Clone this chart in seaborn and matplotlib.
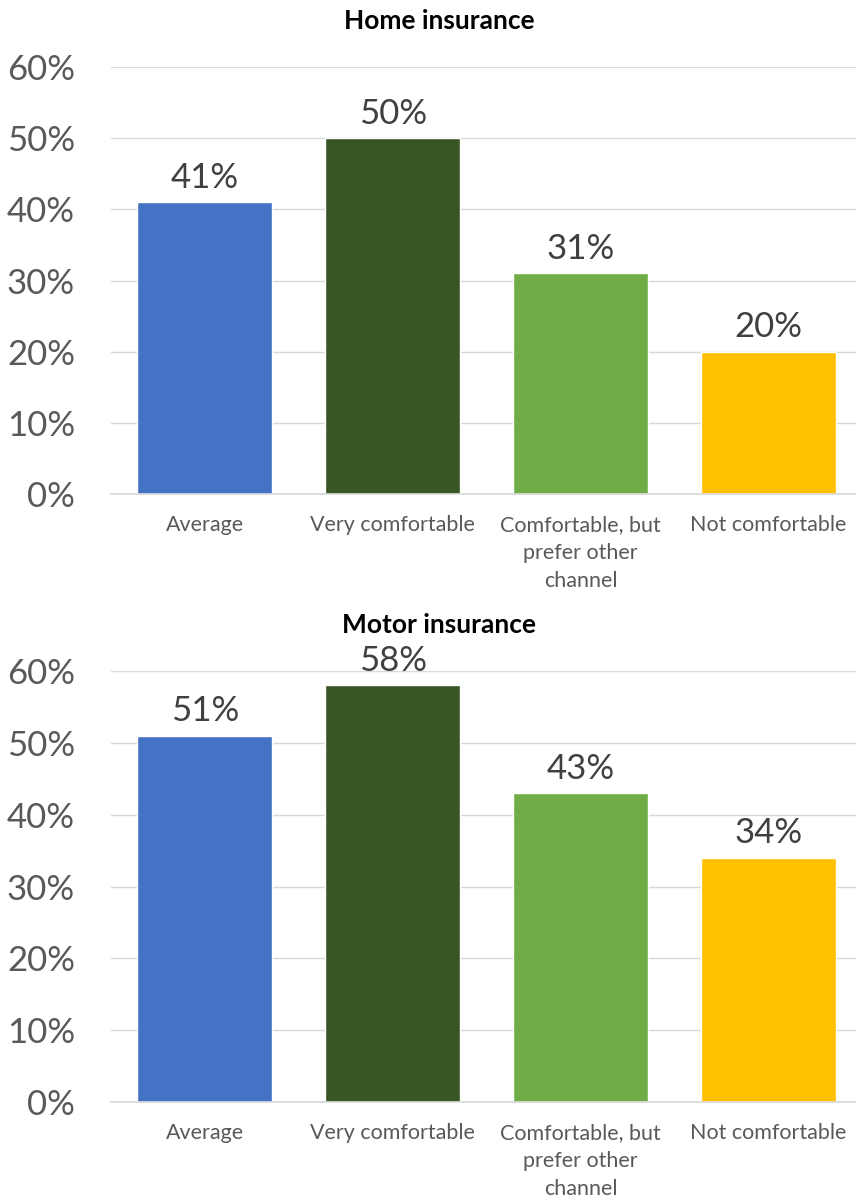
import matplotlib
matplotlib.use("Agg")
import matplotlib.pyplot as plt
import seaborn as sns
import pandas as pd

categories = ["Average", "Very comfortable", "Comfortable, but\nprefer other\nchannel", "Not comfortable"]
home_values = [41, 50, 31, 20]
motor_values = [51, 58, 43, 34]
colors = ["#4472C4", "#375623", "#70AD47", "#FFC000"]
titles = ["Home insurance", "Motor insurance"]

sns.set_theme(style="white")
plt.rcParams["font.family"] = ["Lato", "DejaVu Sans"]

W, H = 856, 1202
fig = plt.figure(figsize=(W / 100, H / 100), dpi=100)


def px_axes(left, top, right, bottom):
    return fig.add_axes([left / W, 1 - bottom / H, (right - left) / W, (bottom - top) / H])


panels = [
    (home_values, titles[0], 67, 494, 21),
    (motor_values, titles[1], 671, 1102, 625),
]

for values, title, top, bottom, title_y in panels:
    ax = px_axes(111, top, 856, bottom)
    df = pd.DataFrame({"category": categories, "value": values})
    sns.barplot(data=df, x="category", y="value", hue="category", palette=colors,
                dodge=False, legend=False, width=0.72, ax=ax, saturation=1)
    ax.set_ylim(0, 60)
    ax.set_xlim(-0.5, 3.468)
    ax.set_yticks(range(0, 61, 10))
    ax.set_yticklabels([f"{v}%" for v in range(0, 61, 10)], fontsize=25, color="#595959")
    ax.set_xlabel("")
    ax.set_ylabel("")
    ax.tick_params(axis="x", labelsize=15.5, colors="#595959", length=0, pad=15)
    ax.tick_params(axis="y", length=0, pad=26)
    for lbl in ax.get_xticklabels():
        lbl.set_linespacing(1.5)
    ax.grid(axis="y", color="#D9D9D9", linewidth=1)
    ax.set_axisbelow(True)
    for s in ["top", "right", "left"]:
        ax.spines[s].set_visible(False)
    ax.spines["bottom"].set_color("#D9D9D9")
    for container in ax.containers:
        ax.bar_label(container, labels=[f"{v:.0f}%" for v in container.datavalues],
                     fontsize=25, color="#404040", padding=6)
    fig.text(439 / W, 1 - title_y / H, title, ha="center", va="center",
             fontsize=19, fontweight="bold", color="#000000")

fig.savefig("out.png", dpi=100)
